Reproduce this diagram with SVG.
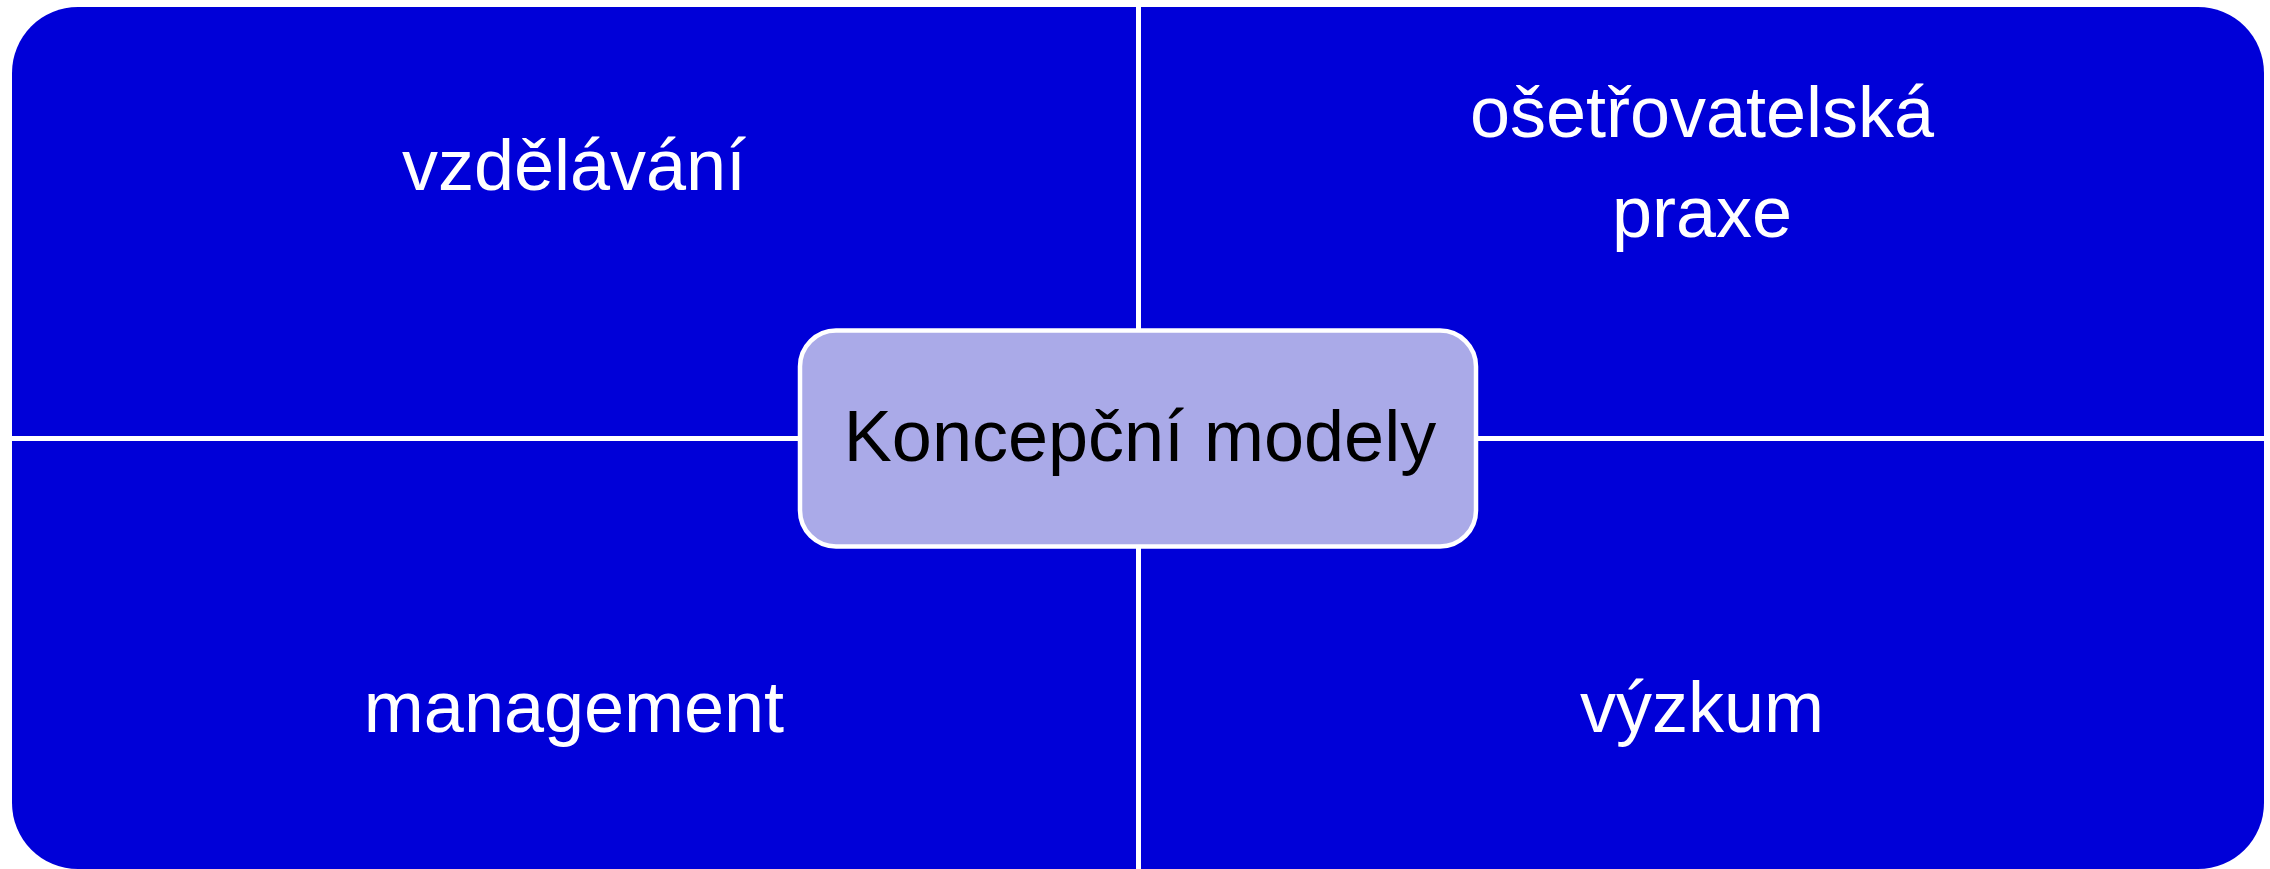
<svg xmlns="http://www.w3.org/2000/svg" width="2270" height="869" viewBox="0 0 2270 869">
<style>
.q{fill:#0000D8;}
.qt{font-family:"Liberation Sans",Arial,sans-serif;font-size:72px;fill:#FFFFFF;text-anchor:middle;}
.ct{font-family:"Liberation Sans",Arial,sans-serif;font-size:72px;fill:#000000;text-anchor:middle;}
</style>
<rect x="0" y="0" width="2270" height="869" fill="#FFFFFF"/>
<g id="vzdelavani">
<path class="q" d="M12,436 L12,73 A66,66 0 0 1 78,7 L1136,7 L1136,436 Z"/>
<text class="qt" x="574" y="190">vzdělávání</text>
</g>
<g id="osetrovatelska-praxe">
<path class="q" d="M1141,7 L2198,7 A66,66 0 0 1 2264,73 L2264,436 L1141,436 Z"/>
<text class="qt" x="1702" y="137">ošetřovatelská</text>
<text class="qt" x="1702" y="237">praxe</text>
</g>
<g id="management">
<path class="q" d="M12,441 L1136,441 L1136,869 L78,869 A66,66 0 0 1 12,803 Z"/>
<text class="qt" x="574" y="732">management</text>
</g>
<g id="vyzkum">
<path class="q" d="M1141,441 L2264,441 L2264,803 A66,66 0 0 1 2198,869 L1141,869 Z"/>
<text class="qt" x="1702" y="732">výzkum</text>
</g>
<g id="koncepcni-modely">
<rect x="800" y="330.5" width="676" height="216" rx="36" ry="36" fill="#AAAAE8" stroke="#FFFFFF" stroke-width="4.5"/>
<text class="ct" x="1140" y="461">Koncepční modely</text>
</g>
</svg>
